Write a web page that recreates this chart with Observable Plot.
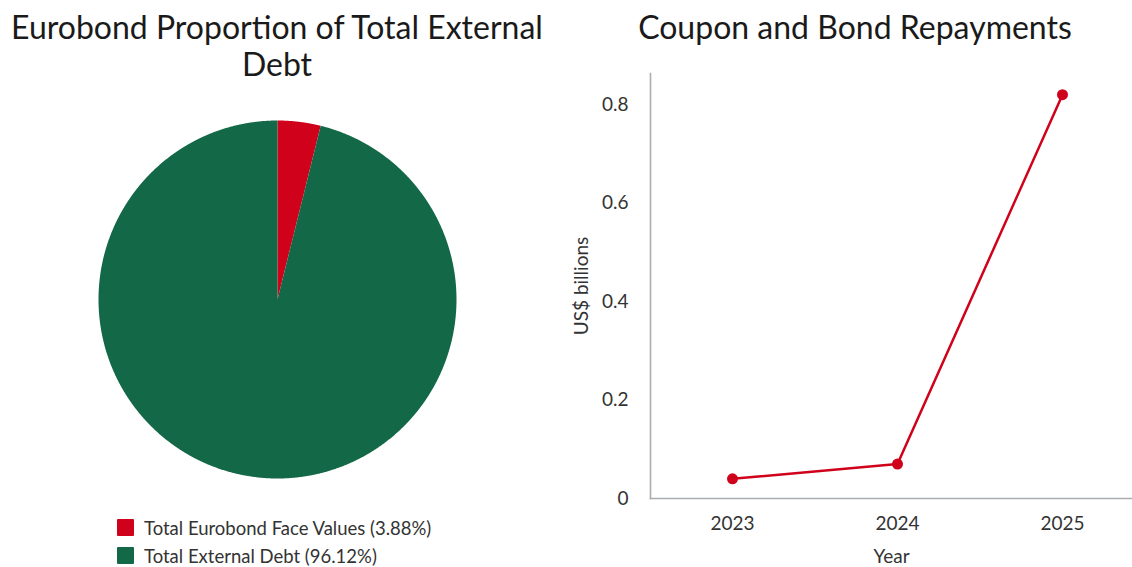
<!DOCTYPE html>
<html><head><meta charset="utf-8">
<script src="https://cdn.jsdelivr.net/npm/d3@7"></script>
<script src="https://cdn.jsdelivr.net/npm/@observablehq/plot@0.6"></script>
<style>
html,body{margin:0;padding:0;background:#fff;width:1132px;height:567px;overflow:hidden;font-family:Lato,sans-serif;}
.title{position:absolute;font-size:32px;line-height:37px;color:#1a1a1a;text-align:center;white-space:nowrap;}
#pie{position:absolute;left:98px;top:120px;}
#line{position:absolute;left:560px;top:60px;}
.legend{position:absolute;left:117px;top:519px;font-size:18.5px;color:#333;}
.legend .row{display:flex;align-items:center;height:17px;margin-bottom:11px;}
.legend .sw{width:17px;height:17px;margin-right:10px;border-radius:1px;flex:none;}
#line g[aria-label="y-axis label"] text{font-size:19px;}
</style></head><body>
<div class="title" style="left:0;top:8px;width:554px;">Eurobond Proportion of Total External<br>Debt</div>
<div class="title" style="left:580px;top:8px;width:550px;">Coupon and Bond Repayments</div>
<div id="pie"></div>
<div class="legend" id="legend"></div>
<div id="line"></div>
<script>
const sliceNames = ["Total Eurobond Face Values", "Total External Debt"];
const sliceShares = [3.88, 96.12];
const sliceColors = ["#d0021b", "#136847"];
const years = ["2023", "2024", "2025"];
const repayments = [0.04, 0.07, 0.82];
const yTicks = [0, 0.2, 0.4, 0.6, 0.8];

// pie slices as polygons in unit coordinates (clockwise from 12 o'clock)
const arcs = d3.pie().sort(null).value((d, i) => sliceShares[i])(sliceNames);
const pts = [];
arcs.forEach((a, i) => {
  const name = sliceNames[i];
  pts.push({name, x: 0, y: 0});
  const n = Math.max(2, Math.ceil((a.endAngle - a.startAngle) / (Math.PI / 720)));
  for (let k = 0; k <= n; k++) {
    const t = a.startAngle + (a.endAngle - a.startAngle) * k / n;
    pts.push({name, x: Math.sin(t), y: Math.cos(t)});
  }
  pts.push({name, x: 0, y: 0});
});

const pie = Plot.plot({
  width: 358, height: 358, margin: 0,
  style: {background: "transparent", overflow: "visible"},
  x: {domain: [-1, 1], axis: null},
  y: {domain: [-1, 1], axis: null},
  color: {domain: sliceNames, range: sliceColors},
  marks: [
    Plot.line(pts, {x: "x", y: "y", z: "name", fill: "name", stroke: null, curve: "linear"})
  ]
});
document.getElementById("pie").append(pie);

// legend
const leg = document.getElementById("legend");
sliceNames.forEach((n, i) => {
  const row = document.createElement("div");
  row.className = "row";
  const sw = document.createElement("div");
  sw.className = "sw";
  sw.style.background = sliceColors[i];
  const lab = document.createElement("span");
  lab.textContent = `${n} (${sliceShares[i].toFixed(2)}%)`;
  row.append(sw, lab);
  leg.append(row);
});

// line chart
const lineData = years.map((y, i) => ({year: y, value: repayments[i]}));
const axisColor = "#a9adb1";
const line = Plot.plot({
  width: 572, height: 512,
  marginLeft: 90, marginRight: 0, marginTop: 13, marginBottom: 74,
  style: {fontFamily: "Lato, sans-serif", fontSize: "19px", color: "#333", background: "transparent", overflow: "visible"},
  x: {type: "point", domain: years, range: [172, 502], padding: 0},
  y: {domain: [0, 0.8], range: [438, 44]},
  marks: [
    Plot.frame({anchor: "left", stroke: axisColor, strokeWidth: 1.6}),
    Plot.frame({anchor: "bottom", stroke: axisColor, strokeWidth: 1.6}),
    Plot.axisX({tickSize: 0, tickPadding: 18, label: "Year", labelAnchor: "center", labelArrow: "none", labelOffset: 64}),
    Plot.axisY({ticks: yTicks, tickSize: 0, tickPadding: 22, tickFormat: "~g", label: "US$ billions", labelAnchor: "center", labelArrow: "none", labelOffset: 76}),
    Plot.line(lineData, {x: "year", y: "value", stroke: "#d0021b", strokeWidth: 2.5}),
    Plot.dot(lineData, {x: "year", y: "value", r: 5.5, fill: "#d0021b", stroke: null})
  ]
});
document.getElementById("line").append(line);
</script>
</body></html>
